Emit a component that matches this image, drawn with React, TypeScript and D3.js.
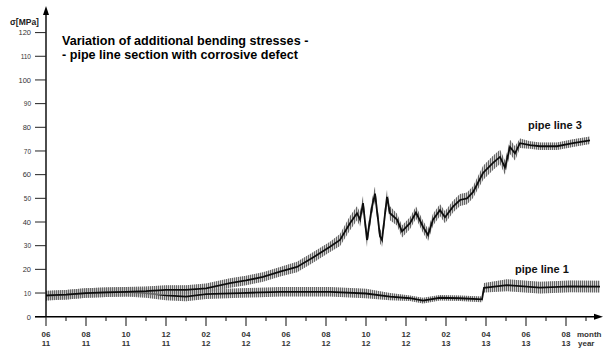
import React from "react";
import { scaleLinear, line, area, curveLinear } from "d3";

// pipe line 3 — months counted from 06/11
const p3Month = [0, 1, 2, 3, 4, 5, 6, 7, 8, 9.2, 10, 10.85, 11.7, 12.55, 13.35, 14.2, 14.7,
  15.2, 15.55, 15.7, 15.85, 16.05, 16.3, 16.45, 16.7, 16.8, 17.05, 17.2, 17.55, 17.8, 18.2,
  18.5, 18.85, 19.1, 19.35, 19.7, 19.95, 20.35, 20.7, 21.05, 21.35, 21.85, 22.35, 22.7,
  22.95, 23.2, 23.45, 23.7, 24.2, 24.7, 25.55, 26.35, 27.2];
const p3Value = [9, 9.3, 10, 10.3, 10.5, 10.8, 11.3, 11.3, 12, 14.2, 15.3, 16.8, 19, 21, 25,
  29.5, 32.4, 39.5, 43.7, 41, 48, 32.4, 46.5, 52, 34, 32.4, 50.6, 43.7, 41, 36, 39.5, 44,
  38, 34.5, 41, 45, 42, 46.5, 49.3, 50, 52.6, 60.7, 65, 67.5, 63, 71.7, 69, 73.3, 72.5,
  72, 72, 73.3, 74.5];
const p3Spread = [2, 2, 2, 2, 2, 2, 2, 2, 2, 2, 2, 2, 2, 2.2, 2.2, 2.2, 2.5,
  3, 3, 3, 3, 3, 3, 3, 3, 3, 3, 3, 2.5, 2.5, 2.5, 2.5, 2.5, 2.5, 2.5, 2.5, 2.5,
  2.5, 2.5, 2.5, 2.5, 3, 3, 3, 3, 3, 3, 2, 1.6, 1.6, 1.6, 1.6, 1.6];

// pipe line 1
const p1Month = [0, 1, 2, 3, 4, 5, 6, 7, 8, 9.7, 11.7, 14.2, 16, 17.2, 18.2, 18.85, 19.7,
  20.7, 21.8, 21.9, 23.05, 24.7, 26.2, 27.7];
const p1Value = [8.8, 9.3, 10, 10.3, 10.5, 10, 9, 8.5, 9.5, 10, 10.5, 10.5, 9.8, 8.5, 7.8,
  6.8, 8, 7.8, 7.3, 12.2, 13.3, 12.3, 12.8, 12.7];
const p1Spread = [2, 2, 2, 2, 2, 2, 2, 2, 2, 2, 2, 2, 2, 1.5, 1.2, 1.2, 1.2, 1.2, 1.2, 2,
  2.5, 2.5, 2.5, 2.5];

const yTicks = [0, 10, 20, 30, 40, 50, 60, 70, 80, 90, 100, 110, 120];
const monthTicks = [0, 1, 2, 3, 4, 5, 6, 7, 8, 9, 10, 11, 12, 13, 14, 15, 16, 17, 18, 19,
  20, 21, 22, 23, 24, 25, 26, 27];
const monthLabels = ["06", "08", "10", "12", "02", "04", "06", "08", "10", "12", "02", "04", "06", "08"];
const yearLabels = ["11", "11", "11", "11", "12", "12", "12", "12", "12", "12", "13", "13", "13", "13"];

const FONT = "'Liberation Sans', Arial, sans-serif";

const x = scaleLinear().domain([0, 26]).range([46, 566]);
const y = scaleLinear().domain([0, 120]).range([316.7, 32.6]);

type Pt = { m: number; v: number; s: number };

function toPts(ms: number[], vs: number[], ss: number[]): Pt[] {
  return ms.map((m, i) => ({ m, v: vs[i], s: ss[i] }));
}

const lineGen = line<Pt>()
  .x((d) => x(d.m))
  .y((d) => y(d.v))
  .curve(curveLinear);
const bandGen = area<Pt>()
  .x((d) => x(d.m))
  .y0((d) => y(d.v - d.s))
  .y1((d) => y(d.v + d.s))
  .curve(curveLinear);

function Series({ pts }: { pts: Pt[] }) {
  return (
    <g filter="url(#soft)">
      <path d={bandGen(pts) || ""} fill="#b5b5b5" opacity={0.6} />
      <path d={bandGen(pts) || ""} fill="url(#hatch)" />
      <path d={lineGen(pts) || ""} fill="none" stroke="#111" strokeWidth={1.8} />
    </g>
  );
}

export default function App() {
  const p3 = toPts(p3Month, p3Value, p3Spread);
  const p1 = toPts(p1Month, p1Value, p1Spread);
  const x0 = x(0);
  const y0 = y(0);

  return (
    <svg
      width={603}
      height={348}
      style={{ position: "absolute", left: 0, top: 0, background: "#fff" }}
      fontFamily={FONT}
    >
      <defs>
        <pattern id="hatch" width={2} height={3} patternUnits="userSpaceOnUse">
          <rect x={0} y={0} width={1} height={3} fill="#666" />
        </pattern>
        <filter id="soft" x="-5%" y="-20%" width="110%" height="140%">
          <feGaussianBlur stdDeviation={0.45} />
        </filter>
      </defs>

      {/* series */}
      <Series pts={p1} />
      <Series pts={p3} />

      {/* y axis */}
      <line x1={x0} x2={x0} y1={y0} y2={13} stroke="#000" strokeWidth={1.4} />
      <polygon points={`${x0},6 ${x0 - 3},15 ${x0 + 3},15`} fill="#000" />
      {yTicks.map((t, i) => (
        <g key={t}>
          <line x1={35} x2={x0} y1={y(t)} y2={y(t)} stroke="#222" strokeWidth={1} />
          <text
            x={31}
            y={y(t) + 2.8}
            textAnchor="end"
            fontSize={i % 2 === 0 ? 7.5 : 6.5}
            fill="#333"
          >
            {t}
          </text>
        </g>
      ))}
      <text x={10} y={25} fontSize={8.5} fontWeight="bold" fill="#222">
        σ[MPa]
      </text>

      {/* x axis */}
      <line x1={35} x2={597} y1={y0} y2={y0} stroke="#000" strokeWidth={1.4} />
      <polygon points={`603,${y0} 594,${y0 - 3} 594,${y0 + 3}`} fill="#000" />
      {monthTicks.map((m) => (
        <line
          key={m}
          x1={x(m)}
          x2={x(m)}
          y1={y0}
          y2={m % 2 === 0 ? 326 : 321}
          stroke="#222"
          strokeWidth={1.1}
        />
      ))}
      {monthLabels.map((lab, i) => (
        <g key={i} fontSize={8} fontWeight="bold" fill="#333" textAnchor="middle">
          <text x={x(i * 2)} y={337}>{lab}</text>
          <text x={x(i * 2)} y={346}>{yearLabels[i]}</text>
        </g>
      ))}
      <text x={577} y={337} fontSize={8} fontWeight="bold" fill="#333">
        month
      </text>
      <text x={578} y={346} fontSize={8} fontWeight="bold" fill="#333">
        year
      </text>

      {/* titles */}
      <text x={62} y={45} fontSize={12.6} fontWeight="bold" fill="#000">
        Variation of additional bending stresses -
      </text>
      <text x={62} y={59} fontSize={12.6} fontWeight="bold" fill="#000">
        - pipe line section with corrosive defect
      </text>
      <text x={528} y={129} fontSize={11} fontWeight="bold" fill="#111">
        pipe line 3
      </text>
      <text x={515} y={273} fontSize={11} fontWeight="bold" fill="#111">
        pipe line 1
      </text>
    </svg>
  );
}
